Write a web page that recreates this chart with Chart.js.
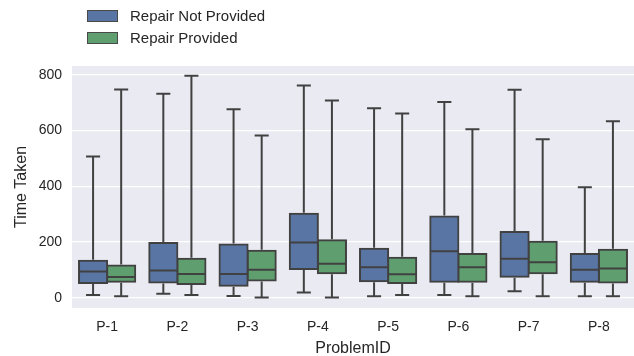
<!DOCTYPE html>
<html>
<head>
<meta charset="utf-8">
<script src="https://cdn.jsdelivr.net/npm/chart.js@4"></script>
<style>
  html, body { margin: 0; padding: 0; background: #fff; }
  #wrap { position: relative; width: 634px; height: 356px; }
  .leg { position: absolute; left: 87px; font: 15px "Liberation Sans", Arial, sans-serif; color: #262626; }
  .leg span.sw { position: absolute; left: 0; width: 29px; height: 10px; border: 1px solid #4a4a4a; }
  .leg span.tx { position: absolute; left: 43px; top: -3px; white-space: nowrap; }
</style>
</head>
<body>
<div id="wrap">
  <canvas id="box" width="634" height="356"></canvas>
  <div class="leg" style="top:10px"><span class="sw" style="background:#5875a4"></span><span class="tx">Repair Not Provided</span></div>
  <div class="leg" style="top:32px"><span class="sw" style="background:#5f9e6e"></span><span class="tx">Repair Provided</span></div>
</div>
<script>
const categories = ['P-1', 'P-2', 'P-3', 'P-4', 'P-5', 'P-6', 'P-7', 'P-8'];

// Repair Not Provided
const npMin = [10, 14, 6, 19, 5, 10, 23, 5];
const npQ1  = [53, 55, 43, 103, 59, 57, 75, 57];
const npMed = [94, 98, 85, 198, 109, 167, 140, 100];
const npQ3  = [133, 196, 191, 301, 176, 292, 236, 157];
const npMax = [507, 732, 677, 762, 680, 703, 747, 397];

// Repair Provided
const pMin = [5, 10, 1, 1, 10, 5, 5, 5];
const pQ1  = [57, 49, 62, 88, 53, 57, 88, 55];
const pMed = [74, 85, 100, 122, 84, 109, 127, 105];
const pQ3  = [116, 140, 169, 206, 143, 157, 201, 172];
const pMax = [748, 797, 582, 708, 661, 605, 569, 634];

const yTicks = [0, 200, 400, 600, 800];

const edge = '#414141';
const font = '"Liberation Sans", Arial, sans-serif';

const stats = [
    { min: npMin, med: npMed, max: npMax, q1: npQ1, q3: npQ3 },
    { min: pMin, med: pMed, max: pMax, q1: pQ1, q3: pQ3 }
];

// plot background
const bgPlugin = {
    id: 'bg',
    beforeDraw(chart) {
        const a = chart.chartArea, c = chart.ctx;
        c.save();
        c.fillStyle = '#eaeaf2';
        c.fillRect(a.left, a.top, a.right - a.left, a.bottom - a.top);
        c.restore();
    }
};

// whiskers + medians
const whiskerPlugin = {
    id: 'whiskers',
    afterDatasetsDraw(chart) {
        const c = chart.ctx, y = chart.scales.y;
        c.save();
        c.strokeStyle = edge;
        c.lineWidth = 2;
        stats.forEach((s, di) => {
            chart.getDatasetMeta(di).data.forEach((bar, i) => {
                const x = bar.x, w = bar.width;
                const cap = w / 4;
                const yMin = y.getPixelForValue(s.min[i]);
                const yMax = y.getPixelForValue(s.max[i]);
                const yQ1 = y.getPixelForValue(s.q1[i]);
                const yQ3 = y.getPixelForValue(s.q3[i]);
                const yMed = y.getPixelForValue(s.med[i]);
                c.beginPath();
                c.moveTo(x, yQ3 - 1); c.lineTo(x, yMax);
                c.moveTo(x - cap, yMax); c.lineTo(x + cap, yMax);
                c.moveTo(x, yQ1 + 1); c.lineTo(x, yMin);
                c.moveTo(x - cap, yMin); c.lineTo(x + cap, yMin);
                c.moveTo(x - w / 2, yMed); c.lineTo(x + w / 2, yMed);
                c.stroke();
            });
        });
        c.restore();
    }
};

new Chart(document.getElementById('box'), {
    type: 'bar',
    data: {
        labels: categories,
        datasets: [
            {
                label: 'Repair Not Provided',
                data: npQ1.map((v, i) => [v, npQ3[i]]),
                backgroundColor: '#5875a4',
                borderColor: edge,
                borderWidth: 2,
                borderSkipped: false,
                inflateAmount: 1,
                categoryPercentage: 0.8,
                barPercentage: 1.0
            },
            {
                label: 'Repair Provided',
                data: pQ1.map((v, i) => [v, pQ3[i]]),
                backgroundColor: '#5f9e6e',
                borderColor: edge,
                borderWidth: 2,
                borderSkipped: false,
                inflateAmount: 1,
                categoryPercentage: 0.8,
                barPercentage: 1.0
            }
        ]
    },
    options: {
        responsive: false,
        animation: false,
        layout: { padding: { top: 66, right: 0, left: 0, bottom: 0 } },
        scales: {
            x: {
                grid: { display: false, drawTicks: false },
                border: { display: false },
                ticks: { color: '#262626', font: { family: font, size: 14 }, padding: 11 },
                title: { display: true, text: 'ProblemID', color: '#262626', font: { family: font, size: 16 }, padding: { top: 0, bottom: -2 } },
                afterFit(s) { s.height = 48; }
            },
            y: {
                min: -37,
                max: 832,
                afterBuildTicks(s) { s.ticks = yTicks.map(v => ({ value: v })); },
                grid: { color: '#ffffff', lineWidth: 1.3, drawTicks: false },
                border: { display: false },
                ticks: { color: '#262626', font: { family: font, size: 14 }, padding: 10 },
                title: { display: true, text: 'Time Taken', color: '#262626', font: { family: font, size: 16 }, padding: { top: 12, bottom: 0 } },
                afterFit(s) { s.width = 72; }
            }
        },
        plugins: {
            legend: { display: false },
            tooltip: { enabled: false }
        }
    },
    plugins: [bgPlugin, whiskerPlugin]
});
</script>
</body>
</html>
